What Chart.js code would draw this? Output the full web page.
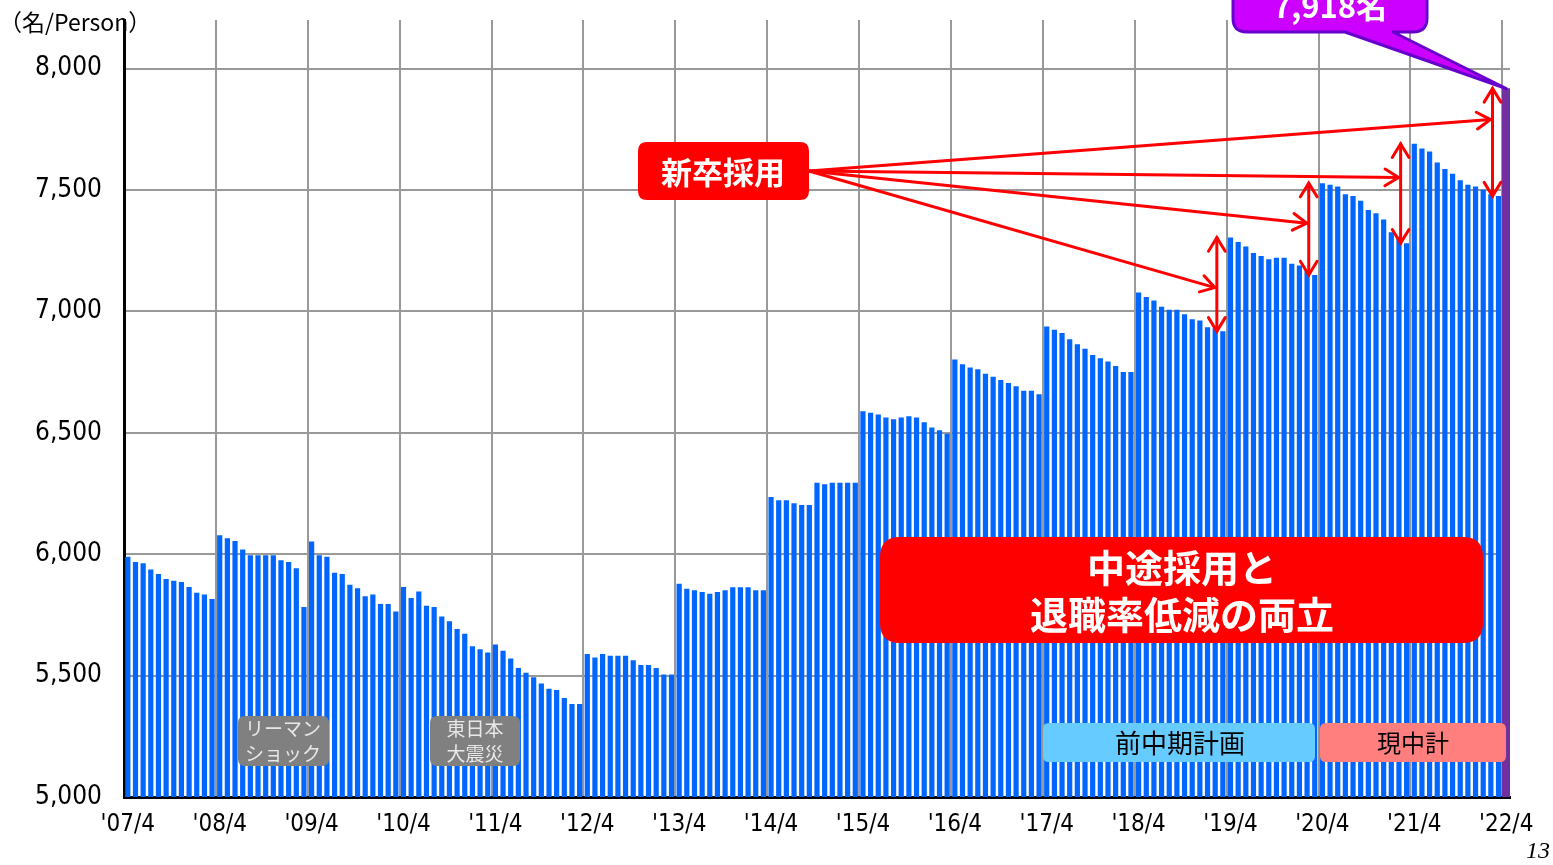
<!DOCTYPE html>
<html lang="ja">
<head>
<meta charset="utf-8">
<title>社員数推移</title>
<script src="https://cdn.jsdelivr.net/npm/chart.js@4.4.1/dist/chart.umd.min.js"></script>
<style>
  html, body { margin: 0; padding: 0; background: #fff; }
  canvas { display: block; }
</style>
</head>
<body>
<canvas id="chart" width="1553" height="865"></canvas>
<script>
// Tick labels shown under the axis (one per April)
var yearTicks = ["'07/4", "'08/4", "'09/4", "'10/4", "'11/4", "'12/4", "'13/4", "'14/4",
  "'15/4", "'16/4", "'17/4", "'18/4", "'19/4", "'20/4", "'21/4", "'22/4"];
var yTicks = [5000, 5500, 6000, 6500, 7000, 7500, 8000];

// Monthly headcount, '07/4 to '22/3
var headcount = [
  5989, 5968, 5963, 5937, 5918, 5898, 5891, 5885, 5865, 5841, 5834, 5815,
  6078, 6066, 6054, 6019, 5996, 5996, 5996, 5996, 5975, 5968, 5942, 5783,
  6052, 5996, 5989, 5924, 5918, 5874, 5860, 5827, 5834, 5795, 5795, 5764,
  5865, 5820, 5846, 5788, 5782, 5743, 5724, 5692, 5672, 5621, 5609, 5595,
  5628, 5602, 5570, 5531, 5512, 5493, 5467, 5446, 5441, 5408, 5383, 5383,
  5589, 5575, 5589, 5582, 5582, 5582, 5563, 5544, 5544, 5531, 5505, 5505,
  5878, 5858, 5851, 5844, 5837, 5844, 5851, 5864, 5864, 5864, 5851, 5851,
  6236, 6222, 6222, 6210, 6203, 6203, 6294, 6288, 6294, 6294, 6294, 6294,
  6589, 6582, 6575, 6563, 6556, 6563, 6568, 6563, 6543, 6522, 6510, 6496,
  6802, 6782, 6769, 6762, 6743, 6731, 6717, 6705, 6692, 6673, 6673, 6659,
  6938, 6924, 6911, 6885, 6865, 6846, 6820, 6807, 6794, 6775, 6750, 6750,
  7078, 7059, 7045, 7019, 7007, 7007, 6988, 6968, 6962, 6935, 6930, 6918,
  7304, 7286, 7267, 7240, 7228, 7215, 7221, 7221, 7196, 7189, 7169, 7150,
  7528, 7521, 7514, 7482, 7475, 7456, 7417, 7404, 7378, 7326, 7307, 7281,
  7690, 7671, 7658, 7613, 7586, 7567, 7540, 7521, 7514, 7501, 7482, 7475
];
var latestHeadcount = 7918;   // '22/4

// 新卒採用: the March bars before each April jump, and where the pointer lines end
var hireMarchIndex = [143, 155, 167, 179];
var hireTipValues = [7098, 7363, 7551, 7790];

// Month labels for the category axis
var months = [];
for (var yr = 7; yr < 22; yr++) {
  for (var m = 0; m < 12; m++) {
    var mm = m < 9 ? m + 4 : m - 8;
    var yy = m < 9 ? yr : yr + 1;
    months.push("'" + (yy < 10 ? "0" + yy : yy) + "/" + mm);
  }
}
months.push(yearTicks[yearTicks.length - 1]);

var blueSeries = headcount.concat([null]);
var purpleSeries = headcount.map(function() { return null; }).concat([latestHeadcount]);

var JP = '"Noto Sans CJK JP", "Noto Sans", sans-serif';
var NUM = '"DejaVu Sans Condensed", "Liberation Sans Narrow", "DejaVu Sans", sans-serif';

// 1. Helpers de dessin

function roundBox(c, x1, y1, x2, y2, r) {
  c.beginPath();
  c.moveTo(x1 + r, y1);
  c.lineTo(x2 - r, y1);
  c.quadraticCurveTo(x2, y1, x2, y1 + r);
  c.lineTo(x2, y2 - r);
  c.quadraticCurveTo(x2, y2, x2 - r, y2);
  c.lineTo(x1 + r, y2);
  c.quadraticCurveTo(x1, y2, x1, y2 - r);
  c.lineTo(x1, y1 + r);
  c.quadraticCurveTo(x1, y1, x1 + r, y1);
  c.closePath();
}

function chevron(c, x, y, angle) {
  var len = 16, spread = 0.55;
  c.beginPath();
  c.moveTo(x - len * Math.cos(angle - spread), y - len * Math.sin(angle - spread));
  c.lineTo(x, y);
  c.lineTo(x - len * Math.cos(angle + spread), y - len * Math.sin(angle + spread));
  c.stroke();
}

function label(c, text, x, y, font, color) {
  c.font = font;
  c.fillStyle = color;
  c.textAlign = "center";
  c.textBaseline = "middle";
  c.fillText(text, x, y);
}

// 2. Annotations

var annotations = {
  id: "annotations",
  afterDatasetsDraw: function(chart) {
    var c = chart.ctx;
    var xs = chart.scales.x;
    var ys = chart.scales.y;
    c.save();

    // titre de l'axe
    c.font = "23px " + JP;
    c.fillStyle = "#000";
    c.textAlign = "left";
    c.textBaseline = "middle";
    c.fillText("（名/Person）", -1, 22);

    // リーマンショック / 東日本大震災
    c.fillStyle = "#808080";
    roundBox(c, 238, 716, 329, 766, 7); c.fill();
    roundBox(c, 430, 716, 520, 766, 7); c.fill();
    label(c, "リーマン", 283, 729, "19px " + JP, "#e8e8e8");
    label(c, "ショック", 283, 754, "19px " + JP, "#e8e8e8");
    label(c, "東日本", 475, 729, "19px " + JP, "#e8e8e8");
    label(c, "大震災", 475, 754, "19px " + JP, "#e8e8e8");

    // plans
    c.fillStyle = "#66ccff";
    roundBox(c, 1043, 723, 1315, 762, 6); c.fill();
    c.fillStyle = "#ff7f7f";
    roundBox(c, 1320, 723, 1506, 762, 6); c.fill();
    label(c, "前中期計画", 1180, 743, "26px " + JP, "#000");
    label(c, "現中計", 1413, 743, "24px " + JP, "#000");

    // grand encadré rouge
    c.fillStyle = "#ff0000";
    roundBox(c, 880, 537, 1483, 643, 20); c.fill();
    label(c, "中途採用と", 1182, 568, "bold 38px " + JP, "#fff");
    label(c, "退職率低減の両立", 1182, 615, "bold 38px " + JP, "#fff");

    // 新卒採用 + flèches
    c.fillStyle = "#ff0000";
    roundBox(c, 638, 142, 809, 200, 9); c.fill();
    label(c, "新卒採用", 723, 172, "bold 31px " + JP, "#fff");

    c.strokeStyle = "#ff0000";
    c.lineWidth = 3;
    c.lineCap = "round";
    hireMarchIndex.forEach(function(i, k) {
      var ax = xs.getPixelForValue(i) - 6;
      var yLow = ys.getPixelForValue(headcount[i]);
      var after = i + 1 < headcount.length ? headcount[i + 1] : latestHeadcount;
      var yHigh = ys.getPixelForValue(after);
      c.beginPath();
      c.moveTo(ax, yLow);
      c.lineTo(ax, yHigh);
      c.stroke();
      chevron(c, ax, yHigh, -Math.PI / 2);
      chevron(c, ax, yLow, Math.PI / 2);

      var tx = ax - 2;
      var ty = ys.getPixelForValue(hireTipValues[k]);
      c.beginPath();
      c.moveTo(809, 171);
      c.lineTo(tx, ty);
      c.stroke();
      chevron(c, tx, ty, Math.atan2(ty - 171, tx - 809));
    });

    // bulle 7,918名
    var px = xs.getPixelForValue(months.length - 1);
    var py = ys.getPixelForValue(latestHeadcount);
    c.fillStyle = "#cc00ff";
    c.strokeStyle = "#6600cc";
    c.lineWidth = 3;
    c.lineJoin = "round";
    c.beginPath();
    c.moveTo(1233 + 14, -20);
    c.lineTo(1427 - 14, -20);
    c.quadraticCurveTo(1427, -20, 1427, -6);
    c.lineTo(1427, 18);
    c.quadraticCurveTo(1427, 32, 1413, 32);
    c.lineTo(1393, 32);
    c.lineTo(px, py);
    c.lineTo(1345, 32);
    c.lineTo(1247, 32);
    c.quadraticCurveTo(1233, 32, 1233, 18);
    c.lineTo(1233, -6);
    c.quadraticCurveTo(1233, -20, 1247, -20);
    c.closePath();
    c.fill();
    c.stroke();
    label(c, latestHeadcount.toLocaleString("en-US") + "名", 1330, 6, "bold 31px " + JP, "#fff");

    // numéro de page
    c.font = "italic 24px 'Liberation Serif', serif";
    c.fillStyle = "#000";
    c.textAlign = "right";
    c.textBaseline = "middle";
    c.fillText("13", 1550, 852);

    c.restore();
  }
};

// 3. Graphique

new Chart(document.getElementById("chart").getContext("2d"), {
  type: "bar",
  data: {
    labels: months,
    datasets: [{
      data: blueSeries,
      backgroundColor: "#0066ff",
      barPercentage: 0.68,
      categoryPercentage: 1,
      grouped: false
    }, {
      data: purpleSeries,
      backgroundColor: "#7030a0",
      barPercentage: 1,
      categoryPercentage: 1,
      grouped: false
    }]
  },
  options: {
    responsive: false,
    animation: false,
    layout: { padding: { top: 20, right: 43, left: 0, bottom: 0 } },
    plugins: {
      legend: { display: false },
      tooltip: { enabled: false }
    },
    scales: {
      x: {
        grid: {
          offset: true,
          drawTicks: false,
          lineWidth: 2,
          color: function(ctx) { return ctx.index % 12 === 0 ? "#999999" : "rgba(0,0,0,0)"; }
        },
        border: { color: "#000", width: 3 },
        ticks: {
          autoSkip: false,
          maxRotation: 0,
          minRotation: 0,
          padding: 13,
          color: "#000",
          font: { family: NUM, size: 24 },
          callback: function(v, i) { return i % 12 === 0 ? yearTicks[i / 12] : ""; }
        },
        afterFit: function(s) { s.height = 68; }
      },
      y: {
        min: 5000,
        max: 8200,
        grid: { drawTicks: false, lineWidth: 2, color: "#999999" },
        border: { color: "#000", width: 3 },
        ticks: {
          padding: 22,
          color: "#000",
          font: { family: NUM, size: 26 },
          callback: function(v) { return v.toLocaleString("en-US"); }
        },
        afterBuildTicks: function(s) {
          s.ticks = yTicks.map(function(v) { return { value: v }; });
        },
        afterFit: function(s) {
          s.width = 124;
          s.paddingTop = 0;
          s.paddingBottom = 0;
        }
      }
    }
  },
  plugins: [annotations]
});
</script>
</body>
</html>
